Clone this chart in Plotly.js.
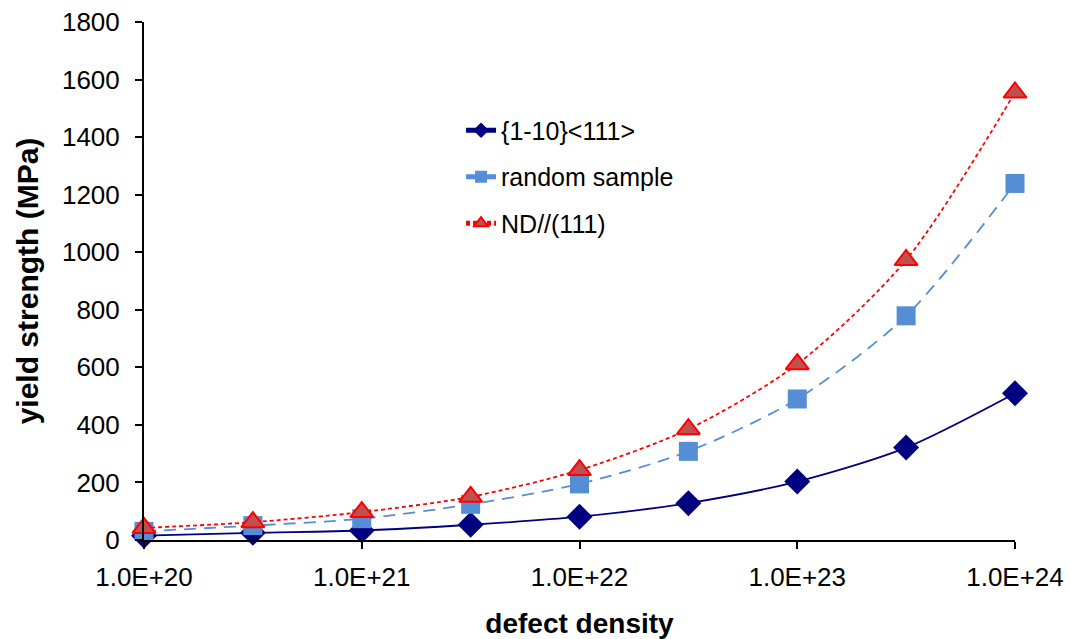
<!DOCTYPE html>
<html>
<head>
<meta charset="utf-8">
<script src="https://cdn.plot.ly/plotly-3.0.1.min.js"></script>
<style>html,body{margin:0;padding:0;background:#fff;}#chart{width:1070px;height:639px;}</style>
</head>
<body>
<div id="chart"></div>
<script>
const defectDensity = [1e20, 3.162e20, 1e21, 3.162e21, 1e22, 3.162e22, 1e23, 3.162e23, 1e24];
const series110 = [15, 25, 33, 53, 81, 128, 203, 321, 510];
const seriesRandom = [30, 50, 74, 124, 195, 308, 490, 779, 1239];
const seriesND111 = [42, 62, 97, 150, 243, 385, 611, 973, 1555];
const seriesNames = ["{1-10}<111>", "random sample", "ND//(111)"];
const xTickVals = [1e20, 1e21, 1e22, 1e23, 1e24];
const xTickText = ["1.0E+20", "1.0E+21", "1.0E+22", "1.0E+23", "1.0E+24"];

const traces = [
  {
    x: defectDensity, y: series110, name: seriesNames[0], legendgroup: 'a', type: 'scatter', mode: 'lines+markers',
    line: {color: '#000080', width: 1.8, shape: 'spline', smoothing: 0.8},
    marker: {symbol: 'diamond', size: 20, color: '#000080'},
    cliponaxis: false
  },
  {
    x: defectDensity, y: seriesRandom, name: seriesNames[1], legendgroup: 'b', type: 'scatter', mode: 'lines+markers',
    line: {color: '#558ED5', width: 1.8, dash: '12px,8px', shape: 'spline', smoothing: 0.8},
    marker: {symbol: 'square', size: 19, color: '#558ED5'},
    cliponaxis: false
  },
  {
    x: defectDensity, y: seriesND111, name: seriesNames[2], legendgroup: 'c', type: 'scatter', mode: 'lines+markers',
    line: {color: '#FF0000', width: 1.8, dash: '4px,3px', shape: 'spline', smoothing: 0.8},
    marker: {symbol: 'triangle-up', size: 20, color: '#C0504D', line: {color: '#FF0000', width: 2}},
    cliponaxis: false
  }
];

const layout = {
  width: 1070, height: 639,
  margin: {l: 144, r: 55, t: 22, b: 99},
  paper_bgcolor: '#fff', plot_bgcolor: '#fff',
  font: {family: 'Liberation Sans, Arial, sans-serif', color: '#000'},
  showlegend: true,
  legend: {
    x: 0.364, y: 0.835, xanchor: 'left', yanchor: 'top',
    font: {size: 25, color: '#000'}, bgcolor: 'rgba(0,0,0,0)',
    tracegroupgap: 11, itemsizing: 'constant'
  },
  xaxis: {
    type: 'log', range: [20, 24],
    tickvals: xTickVals, ticktext: xTickText,
    ticks: 'outside', ticklen: 7, tickwidth: 2, tickcolor: '#000',
    showline: true, linecolor: '#000', linewidth: 2,
    showgrid: false, zeroline: false,
    tickfont: {size: 26, color: '#000'}, ticklabelstandoff: 6,
    title: {text: '<b>defect density</b>', font: {size: 28, color: '#000'}, standoff: 22}
  },
  yaxis: {
    range: [0, 1800], dtick: 200, tick0: 0,
    ticks: 'outside', ticklen: 7, tickwidth: 2, tickcolor: '#000',
    showline: true, linecolor: '#000', linewidth: 2,
    showgrid: false, zeroline: false,
    tickfont: {size: 26, color: '#000'}, ticklabelstandoff: 10,
    title: {text: '<b>yield strength (MPa)</b>', font: {size: 30, color: '#000'}, standoff: 14}
  }
};

Plotly.newPlot('chart', traces, layout, {displayModeBar: false, staticPlot: true});
</script>
</body>
</html>
